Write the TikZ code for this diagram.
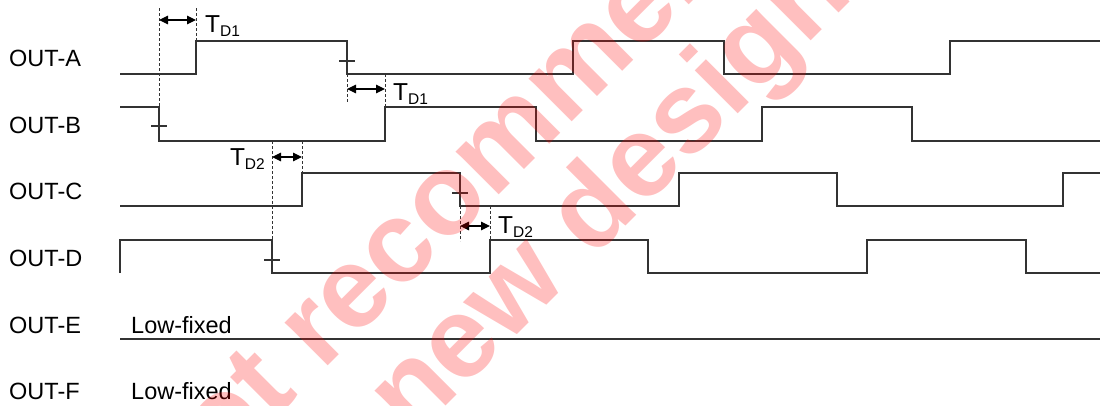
\documentclass[tikz,border=0pt]{standalone}
\usepackage{fontspec}
\setmainfont{Liberation Sans}
\usetikzlibrary{arrows.meta}
\tikzstyle{sig} = [line width=1.6pt, black!80, line join=miter]
\tikzstyle{guide} = [line width=0.9pt, black!80, dash pattern=on 2.5pt off 2.5pt]
\tikzstyle{dimarr} = [line width=1.2pt, black, {Triangle[length=9pt,width=8.5pt]}-{Triangle[length=9pt,width=8.5pt]}]
\tikzstyle{tickmark} = [line width=1.2pt, black!80]
\tikzstyle{lbl} = [inner sep=0pt, anchor=base west, font=\fontsize{23.5}{26}\selectfont]
\tikzstyle{tlbl} = [inner sep=0pt, anchor=base west, font=\fontsize{24.5}{26}\selectfont]
\tikzstyle{wmark} = [inner sep=0pt, rotate=45, anchor=base west, text=red, text opacity=0.25,
    font=\fontsize{115}{115}\selectfont\bfseries]
\newcommand{\td}[1]{T\raisebox{-4.5pt}{\fontsize{15.5}{15.5}\selectfont D#1}}

\begin{document}
\begin{tikzpicture}[x=1pt,y=-1pt]
  \useasboundingbox (0,0) rectangle (1100,405);
  \clip (0,0) rectangle (1100,405);

  % channel names
  \node[lbl] (nA) at (9,66)  {OUT-A};
  \node[lbl] (nB) at (9,133) {OUT-B};
  \node[lbl] (nC) at (9,199) {OUT-C};
  \node[lbl] (nD) at (9,266) {OUT-D};
  \node[lbl] (nE) at (9,333) {OUT-E};
  \node[lbl] (nF) at (9,399) {OUT-F};
  \node[lbl] (fixE) at (131,333) {Low-fixed};
  \node[lbl] (fixF) at (131,399) {Low-fixed};

  % waveforms
  \draw[sig] (120,74) -- (196,74) -- (196,41) -- (347,41) -- (347,74) -- (573,74) -- (573,41)
             -- (724,41) -- (724,74) -- (950,74) -- (950,41) -- (1100,41);
  \draw[sig] (120,107) -- (159,107) -- (159,141) -- (385,141) -- (385,107) -- (536,107) -- (536,141)
             -- (762,141) -- (762,107) -- (912,107) -- (912,141) -- (1100,141);
  \draw[sig] (120,206) -- (302,206) -- (302,173) -- (460,173) -- (460,206) -- (679,206) -- (679,173)
             -- (837,173) -- (837,206) -- (1063,206) -- (1063,173) -- (1100,173);
  \draw[sig] (120,273) -- (120,240) -- (272,240) -- (272,273) -- (490,273) -- (490,240) -- (648,240)
             -- (648,273) -- (867,273) -- (867,240) -- (1026,240) -- (1026,273) -- (1100,273);
  \draw[sig] (120,339) -- (1100,339);

  % edge marks
  \foreach \x/\y in {347/61, 159/126, 272/260, 460/193}
    \draw[tickmark] (\x-8,\y) -- (\x+8,\y);

  % delay T_D1 (A after B)
  \coordinate (d1a) at (159,20);
  \coordinate (d1b) at (196,20);
  \draw[guide] (159,8) -- (159,107);
  \draw[guide] (196,8) -- (196,41);
  \draw[dimarr] (d1a) -- (d1b);
  \node[tlbl] (t1) at (205,32) {\td{1}};

  % delay T_D1 (B after A)
  \coordinate (d2a) at (347,89);
  \coordinate (d2b) at (385,89);
  \draw[guide] (347,74) -- (347,103);
  \draw[guide] (385,74) -- (385,107);
  \draw[dimarr] (d2a) -- (d2b);
  \node[tlbl] (t2) at (393,100) {\td{1}};

  % delay T_D2 (C after D)
  \coordinate (d3a) at (272,157);
  \coordinate (d3b) at (302,157);
  \draw[guide] (272,141) -- (272,240);
  \draw[guide] (302,141) -- (302,173);
  \draw[dimarr] (d3a) -- (d3b);
  \node[tlbl, anchor=base east] (t3) at (265,165) {\td{2}};

  % delay T_D2 (D after C)
  \coordinate (d4a) at (460,226);
  \coordinate (d4b) at (490,226);
  \draw[guide] (460,206) -- (460,241);
  \draw[guide] (490,206) -- (490,240);
  \draw[dimarr] (d4a) -- (d4b);
  \node[tlbl] (t4) at (498,233) {\td{2}};

  % stamp
  \node[wmark] (wm1) at (164,530) {Not recommended};
  \node[wmark] (wm2) at (281,571) {for new design};
\end{tikzpicture}
\end{document}
